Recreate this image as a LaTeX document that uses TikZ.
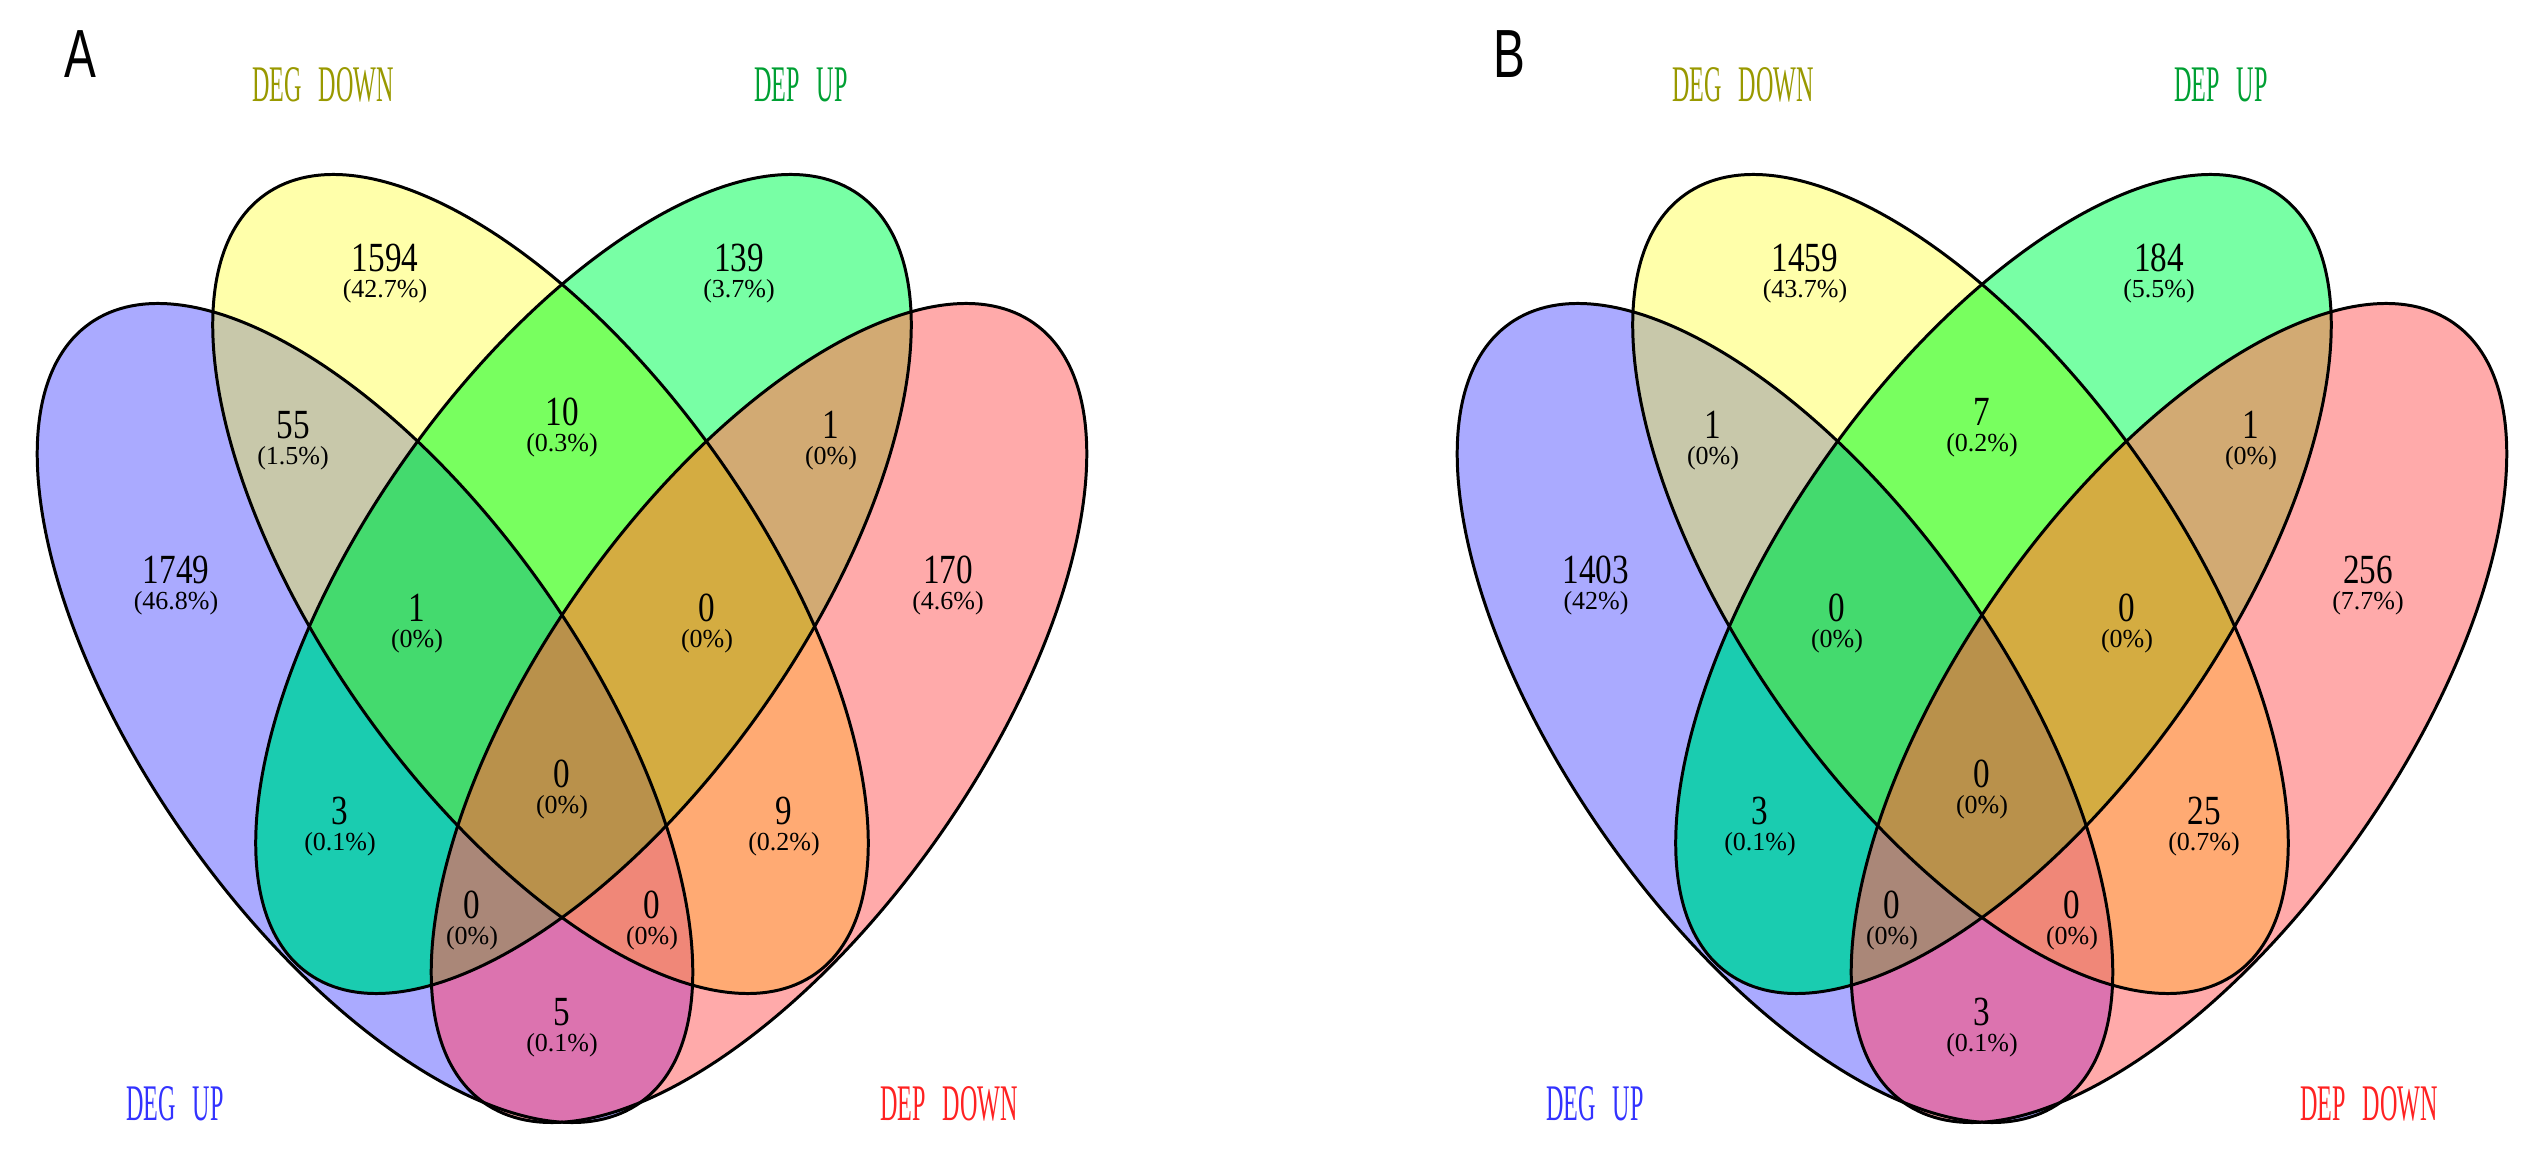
\documentclass[tikz,border=0pt]{standalone}
\usepackage{fontspec}
\setmainfont{Liberation Serif}
\newfontfamily\tagfont{Liberation Sans}

% region colours (B = DEG UP, Y = DEG DOWN, G = DEP UP, R = DEP DOWN)
\definecolor{cB}{HTML}{AAAAFF}
\definecolor{cY}{HTML}{FFFFAA}
\definecolor{cG}{HTML}{78FFA5}
\definecolor{cR}{HTML}{FFAAAA}
\definecolor{cBY}{HTML}{C8C8AA}
\definecolor{cBG}{HTML}{1ACCB0}
\definecolor{cBR}{HTML}{DC73AF}
\definecolor{cYG}{HTML}{78FF5F}
\definecolor{cYR}{HTML}{FFAA73}
\definecolor{cGR}{HTML}{D2AA73}
\definecolor{cBYG}{HTML}{44DA6E}
\definecolor{cBYR}{HTML}{F08778}
\definecolor{cBGR}{HTML}{AA8778}
\definecolor{cYGR}{HTML}{D4AC41}
\definecolor{cBYGR}{HTML}{B9914B}
\definecolor{labB}{HTML}{3333FF}
\definecolor{labY}{HTML}{999900}
\definecolor{labG}{HTML}{00A033}
\definecolor{labR}{HTML}{FF2222}

\tikzset{
  rotB/.style={rotate around={-54.77:(365,713)}},
  rotY/.style={rotate around={-54.77:(540.5,584)}},
  rotG/.style={rotate around={54.77:(583.5,584)}},
  rotR/.style={rotate around={54.77:(759,713)}},
  outline/.style={draw=black, line width=0.85pt},
  num/.style={inner sep=0pt, font=\fontsize{11.8}{12}\selectfont},
  pct/.style={inner sep=0pt, font=\fontsize{7.4}{8}\selectfont},
  cat/.style={inner sep=0pt, font=\fontsize{14.6}{15}\selectfont},
  paneltag/.style={inner sep=0pt, font=\tagfont\fontsize{19.4}{20}\selectfont}
}

\newcommand{\clipB}{\clip[rotB] (365,713) ellipse (477 and 218);}
\newcommand{\clipY}{\clip[rotY] (540.5,584) ellipse (477 and 218);}
\newcommand{\clipG}{\clip[rotG] (583.5,584) ellipse (477 and 218);}
\newcommand{\clipR}{\clip[rotR] (759,713) ellipse (477 and 218);}
\newcommand{\region}[2]{\begin{scope}#1\fill[#2] (0,0) rectangle (1130,1157);\end{scope}}

% the four ellipses with every overlap filled
\newcommand{\vennshapes}{%
  \fill[cB, rotB] (365,713) ellipse (477 and 218);
  \fill[cY, rotY] (540.5,584) ellipse (477 and 218);
  \fill[cG, rotG] (583.5,584) ellipse (477 and 218);
  \fill[cR, rotR] (759,713) ellipse (477 and 218);
  \region{\clipB\clipY}{cBY}
  \region{\clipB\clipG}{cBG}
  \region{\clipB\clipR}{cBR}
  \region{\clipY\clipG}{cYG}
  \region{\clipY\clipR}{cYR}
  \region{\clipG\clipR}{cGR}
  \region{\clipB\clipY\clipG}{cBYG}
  \region{\clipB\clipY\clipR}{cBYR}
  \region{\clipB\clipG\clipR}{cBGR}
  \region{\clipY\clipG\clipR}{cYGR}
  \region{\clipB\clipY\clipG\clipR}{cBYGR}
  \draw[outline, rotB] (365,713) ellipse (477 and 218);
  \draw[outline, rotY] (540.5,584) ellipse (477 and 218);
  \draw[outline, rotG] (583.5,584) ellipse (477 and 218);
  \draw[outline, rotR] (759,713) ellipse (477 and 218);
}

% count and percentage of one region
\newcommand{\cnt}[5]{%
  \node[num] (#1) at (#2,#3) {\scalebox{0.8}[1]{#4}};
  \node[pct] (#1-p) at (#2,#3+33) {#5};}

\begin{document}
\begin{tikzpicture}[x=0.1mm, y=-0.1mm]
  \useasboundingbox (0,0) rectangle (2537,1157);

  % panel A
  \vennshapes
  \node[paneltag] (tagA) at (80,54) {\scalebox{0.7}[1]{A}};
  \node[cat, labY] (a-degdown) at (323,85) {\scalebox{0.47}[1]{DEG\hspace{0.7em}DOWN}};
  \node[cat, labG] (a-depup) at (801,85) {\scalebox{0.47}[1]{DEP\hspace{0.7em}UP}};
  \node[cat, labB] (a-degup) at (175,1104) {\scalebox{0.47}[1]{DEG\hspace{0.7em}UP}};
  \node[cat, labR] (a-depdown) at (949,1104) {\scalebox{0.47}[1]{DEP\hspace{0.7em}DOWN}};
  \cnt{a-y}{385}{258}{1594}{(42.7\%)}
  \cnt{a-g}{739}{258}{139}{(3.7\%)}
  \cnt{a-by}{293}{425}{55}{(1.5\%)}
  \cnt{a-yg}{562}{412}{10}{(0.3\%)}
  \cnt{a-gr}{831}{425}{1}{(0\%)}
  \cnt{a-b}{176}{570}{1749}{(46.8\%)}
  \cnt{a-r}{948}{570}{170}{(4.6\%)}
  \cnt{a-byg}{417}{608}{1}{(0\%)}
  \cnt{a-ygr}{707}{608}{0}{(0\%)}
  \cnt{a-bg}{340}{811}{3}{(0.1\%)}
  \cnt{a-all}{562}{774}{0}{(0\%)}
  \cnt{a-yr}{784}{811}{9}{(0.2\%)}
  \cnt{a-bgr}{472}{905}{0}{(0\%)}
  \cnt{a-byr}{652}{905}{0}{(0\%)}
  \cnt{a-br}{562}{1012}{5}{(0.1\%)}

  % panel B
  \begin{scope}[xshift=142mm]
    \vennshapes
    \node[paneltag] (tagB) at (89,54) {\scalebox{0.7}[1]{B}};
    \node[cat, labY] (b-degdown) at (323,85) {\scalebox{0.47}[1]{DEG\hspace{0.7em}DOWN}};
    \node[cat, labG] (b-depup) at (801,85) {\scalebox{0.47}[1]{DEP\hspace{0.7em}UP}};
    \node[cat, labB] (b-degup) at (175,1104) {\scalebox{0.47}[1]{DEG\hspace{0.7em}UP}};
    \node[cat, labR] (b-depdown) at (949,1104) {\scalebox{0.47}[1]{DEP\hspace{0.7em}DOWN}};
    \cnt{b-y}{385}{258}{1459}{(43.7\%)}
    \cnt{b-g}{739}{258}{184}{(5.5\%)}
    \cnt{b-by}{293}{425}{1}{(0\%)}
    \cnt{b-yg}{562}{412}{7}{(0.2\%)}
    \cnt{b-gr}{831}{425}{1}{(0\%)}
    \cnt{b-b}{176}{570}{1403}{(42\%)}
    \cnt{b-r}{948}{570}{256}{(7.7\%)}
    \cnt{b-byg}{417}{608}{0}{(0\%)}
    \cnt{b-ygr}{707}{608}{0}{(0\%)}
    \cnt{b-bg}{340}{811}{3}{(0.1\%)}
    \cnt{b-all}{562}{774}{0}{(0\%)}
    \cnt{b-yr}{784}{811}{25}{(0.7\%)}
    \cnt{b-bgr}{472}{905}{0}{(0\%)}
    \cnt{b-byr}{652}{905}{0}{(0\%)}
    \cnt{b-br}{562}{1012}{3}{(0.1\%)}
  \end{scope}
\end{tikzpicture}
\end{document}
